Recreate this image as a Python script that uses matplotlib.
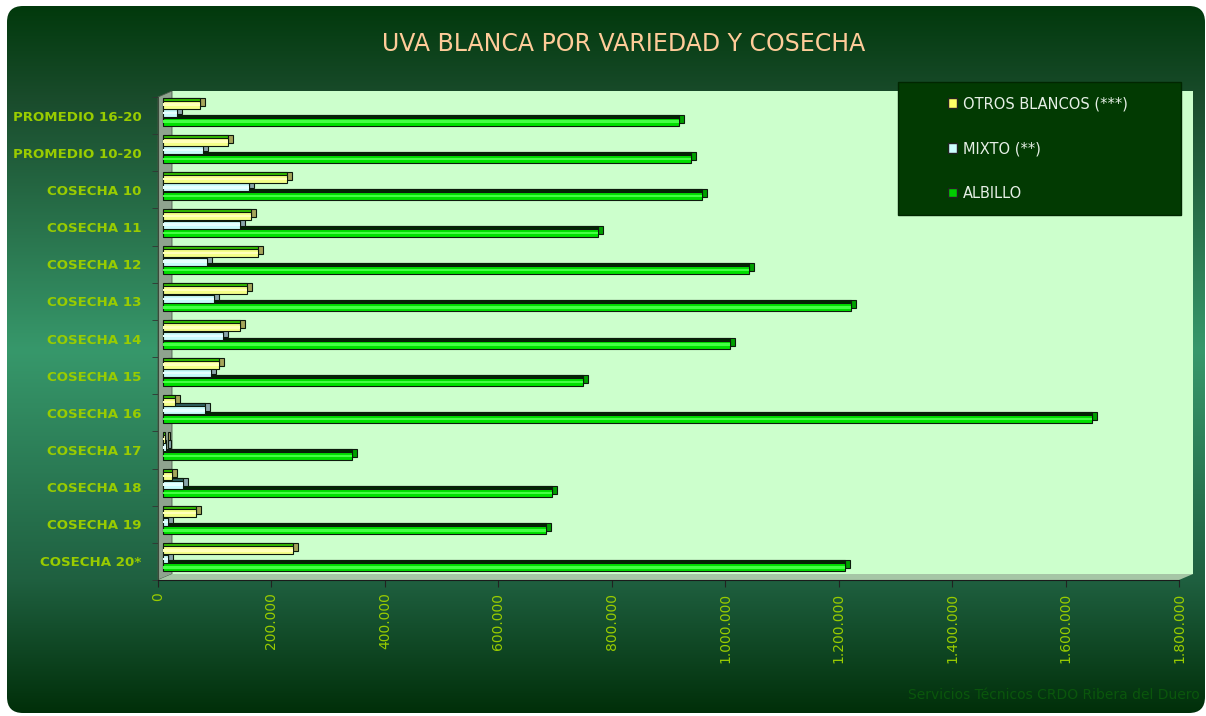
import numpy as np
import matplotlib.pyplot as plt
from matplotlib.patches import FancyBboxPatch, Polygon, Rectangle, Patch
from matplotlib.transforms import ScaledTranslation
from matplotlib.ticker import FuncFormatter

categorias = ["PROMEDIO 16-20", "PROMEDIO 10-20", "COSECHA 10", "COSECHA 11",
              "COSECHA 12", "COSECHA 13", "COSECHA 14", "COSECHA 15",
              "COSECHA 16", "COSECHA 17", "COSECHA 18", "COSECHA 19",
              "COSECHA 20*"]
albillo = [910000, 931000, 950000, 767000, 1033000, 1213000, 1000000,
           741000, 1637000, 333000, 686000, 675000, 1203000]
mixto = [25000, 70000, 152000, 135000, 78000, 90000, 105000,
         84000, 74000, 5000, 35000, 8000, 8000]
otros = [65000, 114000, 218000, 156000, 167000, 148000, 136000,
         99000, 21000, 3000, 15000, 59000, 230000]
x_ticks = [0, 200000, 400000, 600000, 800000, 1000000, 1200000,
           1400000, 1600000, 1800000]
series_labels = ["ALBILLO", "MIXTO (**)", "OTROS BLANCOS (***)"]

W, H = 1206, 716
# front plane of the 3d box (pixels) and its depth
L, R, T, B = 158, 1179, 97, 580
DX, DY = 14, 6

fig = plt.figure(figsize=(W / 100, H / 100), dpi=100)
fig.patch.set_facecolor("white")

# background panel with vertical gradient
bg = fig.add_axes([0, 0, 1, 1], zorder=0)
bg.set_xlim(0, W)
bg.set_ylim(H, 0)
bg.axis("off")
yy = np.linspace(0, H, 400)
stops = [0, 100, 350, 580, 716]
cols = np.array([[0x00, 0x38, 0x0a], [0x1a, 0x4c, 0x2c], [0x37, 0x98, 0x6b],
                 [0x1f, 0x60, 0x40], [0x00, 0x2e, 0x08]]) / 255
grad = np.stack([np.interp(yy, stops, cols[:, k]) for k in range(3)], axis=-1)[:, None, :]
panel = FancyBboxPatch((7, 6), W - 8, H - 9, boxstyle="round,pad=0,rounding_size=16",
                       fc="none", ec="none", transform=bg.transData)
bg.add_patch(panel)
im = bg.imshow(grad, extent=(0, W, H, 0), aspect="auto")
im.set_clip_path(panel)

# walls of the 3d box
bg.add_patch(Rectangle((L + DX, T - DY), R - L, B - T, fc="#ccffcc", ec="none"))
bg.add_patch(Polygon([(L, T), (L + DX, T - DY), (L + DX, B - DY), (L, B)],
                     fc="#8fa38f", ec="#4a5a4a", lw=0.6))
bg.add_patch(Polygon([(L, B), (L + DX, B - DY), (R + DX, B - DY), (R, B)],
                     fc="#a6c6a6", ec="none"))

# legend box
bg.add_patch(Rectangle((898, 82), 283, 133, fc="#023a02", ec="#012601", lw=1))

ax = fig.add_axes([L / W, 1 - B / H, (R - L) / W, (B - T) / H], zorder=1)
ax.set_facecolor("none")
n = len(categorias)
pos = np.arange(n)[::-1]


def shift(dx, dy):
    return ax.transData + ScaledTranslation(dx / 100, dy / 100, fig.dpi_scale_trans)


h = 0.215
bx, by = 5, 2.5
estilos = [
    (albillo, -0.23, "#00e000", "#002800", "#00a000", "#44ff44"),
    (mixto, 0.0, "#c8fbfb", "#2f5f5f", "#8aa5aa", "#e6ffff"),
    (otros, 0.23, "#f4ff88", "#33bb00", "#a5a55a", "#ffffbb"),
]
for vals, off, front, top, side, light in estilos:
    kw = dict(height=h, edgecolor="#0d1a0d", lw=0.8, clip_on=False)
    ax.barh(pos + off, vals, color=side, transform=shift(bx + 5, by + 3), **kw)
    ax.barh(pos + off, vals, color=top, transform=shift(bx, by + 3), **kw)
    ax.barh(pos + off, vals, color=front, transform=shift(bx, by), **kw)
    ax.barh(pos + off, vals, height=h * 0.3, color=light, lw=0, clip_on=False,
            transform=shift(bx, by))

ax.set_xlim(0, 1800000)
ax.set_ylim(-0.5, n - 0.5)

ax.set_yticks(pos)
ax.set_yticklabels(categorias, fontsize=9.6, fontweight="bold", color="#99cc00")
ax.set_yticks(np.arange(-0.5, n, 1), minor=True)
ax.tick_params(axis="y", which="major", length=0, pad=12)
ax.tick_params(axis="y", which="minor", length=4, color="#333333")

ax.set_xticks(x_ticks)
ax.xaxis.set_major_formatter(FuncFormatter(lambda v, p: f"{int(v):,}".replace(",", ".")))
ax.tick_params(axis="x", length=5, color="#222222", labelcolor="#99cc00",
               labelsize=10, labelrotation=90, pad=4)

for s in ["top", "right"]:
    ax.spines[s].set_visible(False)
ax.spines["bottom"].set_color("#1a1a1a")
ax.spines["left"].set_color("#3a4a3a")

handles = [Patch(fc="#ffff66", ec="#222222", label=series_labels[2]),
           Patch(fc="#ccffff", ec="#222222", label=series_labels[1]),
           Patch(fc="#00cc00", ec="#222222", label=series_labels[0])]
fig.legend(handles=handles, loc="upper left", bbox_to_anchor=(935 / W, 1 - 83 / H),
           frameon=False, fontsize=10.5, labelcolor="#e6efe6", handlelength=0.6,
           handleheight=0.6, handletextpad=0.4, labelspacing=2.05)

fig.text(624 / W, 1 - 44 / H, "UVA BLANCA POR VARIEDAD Y COSECHA", ha="center",
         va="center", fontsize=17, color="#ffcc99")
fig.text(1200 / W, 1 - 695 / H, "Servicios Técnicos CRDO Ribera del Duero",
         ha="right", va="center", fontsize=10, color="#0a560c")

fig.savefig("out.png", dpi=100)
